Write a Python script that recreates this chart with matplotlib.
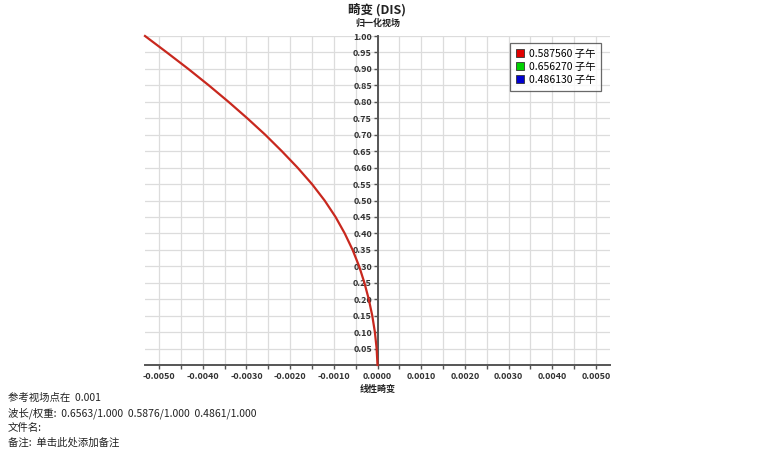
import matplotlib
matplotlib.use("Agg")
import matplotlib.pyplot as plt
from matplotlib.patches import Patch
import numpy as np

plt.rcParams['font.family'] = ['Noto Sans CJK SC', 'DejaVu Sans']

# Data
field = [0.00, 0.05, 0.10, 0.15, 0.20, 0.25, 0.30, 0.35, 0.40, 0.45, 0.50,
         0.55, 0.60, 0.65, 0.70, 0.75, 0.80, 0.85, 0.90, 0.95, 1.00]
distortion = [0.0, -0.00002, -0.00006, -0.00012, -0.00020, -0.00030, -0.00042,
              -0.00057, -0.00075, -0.00096, -0.00121, -0.00150, -0.00183,
              -0.00219, -0.00257, -0.00298, -0.00341, -0.00386, -0.00433,
              -0.00482, -0.00532]
legend_labels = ["0.587560 子午", "0.656270 子午", "0.486130 子午"]
legend_colors = ["#e00000", "#00d000", "#0000d0"]
x_ticks = [-0.005, -0.004, -0.003, -0.002, -0.001, 0.0, 0.001, 0.002, 0.003, 0.004, 0.005]
y_ticks = [0.05, 0.10, 0.15, 0.20, 0.25, 0.30, 0.35, 0.40, 0.45, 0.50,
           0.55, 0.60, 0.65, 0.70, 0.75, 0.80, 0.85, 0.90, 0.95, 1.00]
notes = ["参考视场点在  0.001",
         "波长/权重:  0.6563/1.000  0.5876/1.000  0.4861/1.000",
         "文件名:",
         "备注:  单击此处添加备注"]

fig = plt.figure(figsize=(7.6, 4.53), dpi=100)
ax = fig.add_axes([145/760, 1-365/453, (610-145)/760, (365-36)/453])

for s in ['top', 'right']:
    ax.spines[s].set_visible(False)
ax.spines['left'].set_position(('data', 0))
ax.spines['left'].set_color('#555555')
ax.spines['left'].set_linewidth(1.4)
ax.spines['bottom'].set_color('#555555')
ax.spines['bottom'].set_linewidth(1.4)

ax.plot(distortion, field, color="#c8281e", lw=1.6, zorder=3, clip_on=False)

ax.set_xlim(-0.00532, 0.00532)
ax.set_ylim(0, 1.0)

ax.set_xticks(x_ticks)
ax.set_xticklabels([f"{v:.4f}" for v in x_ticks])
ax.set_xticks(np.arange(-0.005, 0.00501, 0.0005), minor=True)
ax.set_yticks(y_ticks)
ax.set_yticklabels([f"{v:.2f}" for v in y_ticks])
ax.yaxis.set_minor_locator(matplotlib.ticker.NullLocator())
for lab in ax.get_xticklabels() + ax.get_yticklabels():
    lab.set_fontsize(6.5)
    lab.set_fontweight('bold')
    lab.set_color('#333333')

ax.grid(True, which='both', axis='x', color='#dcdcdc', lw=0.9)
ax.grid(True, which='major', axis='y', color='#dcdcdc', lw=0.9)
ax.set_axisbelow(True)

ax.tick_params(axis='x', which='both', direction='out', length=3, width=1, color='#555555', pad=2)
ax.tick_params(axis='y', direction='out', length=3, width=1, color='#555555', pad=1)

fig.text(377.5/760, 1-10/453, "畸变 (DIS)", ha='center', va='center',
         fontsize=9, fontweight='bold', color='#222222')
ax.text(0.5, 1.025, "归一化视场", transform=ax.transAxes, ha='center', va='bottom',
        fontsize=6.5, fontweight='bold', color='#222222')
ax.set_xlabel("线性畸变", fontsize=6.5, fontweight='bold', labelpad=3, color='#222222')

handles = [Patch(facecolor=c, edgecolor='#333333', lw=0.6) for c in legend_colors]
leg = ax.legend(handles, legend_labels, loc='upper right',
                bbox_to_anchor=((601-145)/465, 1-(43-36)/329), borderaxespad=0,
                fontsize=7.5, frameon=True, fancybox=False, handlelength=0.8, handleheight=0.8,
                handletextpad=0.4, borderpad=0.55, labelspacing=0.3)
leg.get_frame().set_edgecolor('#444444')
leg.get_frame().set_linewidth(0.9)

for i, t in enumerate(notes):
    fig.text(8/760, 1-(398 + 15*i)/453, t, fontsize=7.5, va='center', ha='left', color='#222222')

fig.savefig("out.png", dpi=100, facecolor='white')
